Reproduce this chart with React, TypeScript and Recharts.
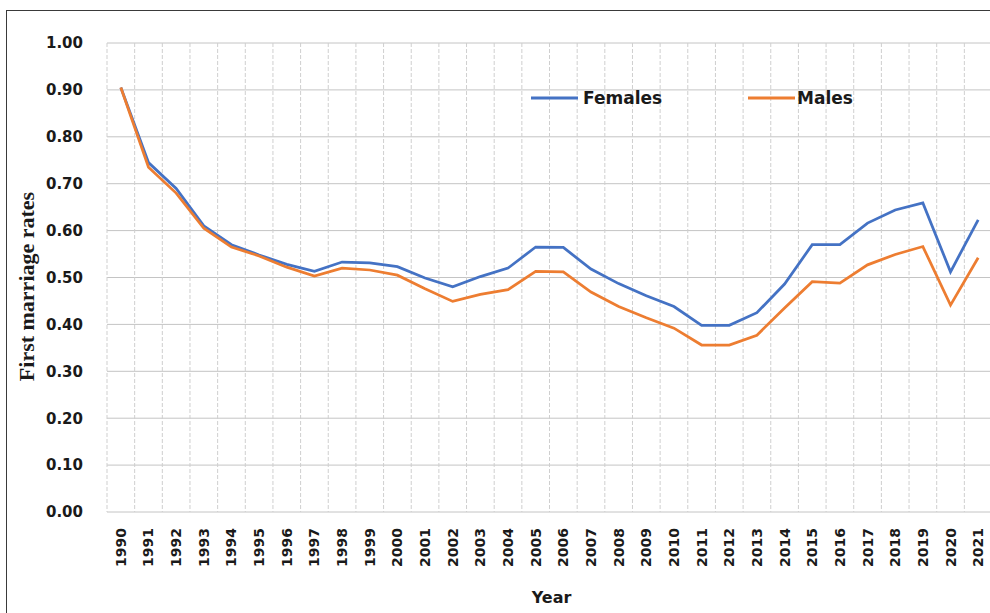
import React from 'react';
import { LineChart, Line, XAxis, YAxis, CartesianGrid, Legend, Label } from 'recharts';

const years = [
  '1990', '1991', '1992', '1993', '1994', '1995', '1996', '1997', '1998', '1999',
  '2000', '2001', '2002', '2003', '2004', '2005', '2006', '2007', '2008', '2009',
  '2010', '2011', '2012', '2013', '2014', '2015', '2016', '2017', '2018', '2019',
  '2020', '2021',
];

const females = [
  0.905, 0.745, 0.69, 0.61, 0.57, 0.548, 0.528, 0.513, 0.533, 0.531,
  0.523, 0.499, 0.48, 0.502, 0.52, 0.565, 0.564, 0.518, 0.487, 0.461,
  0.438, 0.398, 0.398, 0.425, 0.486, 0.57, 0.57, 0.616, 0.644, 0.659,
  0.512, 0.623,
];

const males = [
  0.905, 0.735, 0.68, 0.605, 0.565, 0.546, 0.522, 0.503, 0.52, 0.516,
  0.505, 0.476, 0.449, 0.464, 0.474, 0.513, 0.512, 0.469, 0.438, 0.414,
  0.392, 0.356, 0.356, 0.377, 0.435, 0.491, 0.488, 0.527, 0.549, 0.566,
  0.441, 0.542,
];

const yTicks = [0, 0.1, 0.2, 0.3, 0.4, 0.5, 0.6, 0.7, 0.8, 0.9, 1.0];

const data = years.map((year, i) => ({ year, Females: females[i], Males: males[i] }));

const FONT = '"DejaVu Sans", Arial, sans-serif';

const XTick = (props: any) => {
  const { x, y, payload } = props;
  return (
    <text
      x={x}
      y={y}
      transform={`rotate(-90 ${x} ${y})`}
      textAnchor="end"
      dominantBaseline="central"
      fontFamily={FONT}
      fontWeight="bold"
      fontSize={14}
      fill="#1a1a1a"
    >
      {payload.value}
    </text>
  );
};

const LegendContent = (props: any) => {
  const { payload } = props;
  return (
    <div style={{ display: 'flex', alignItems: 'center' }}>
      {(payload || []).map((p: any, i: number) => (
        <div key={p.value} style={{ display: 'flex', alignItems: 'center', width: i === 0 ? 217 : 'auto' }}>
          <svg width={47} height={6} style={{ display: 'block' }}>
            <line x1={0} y1={3} x2={47} y2={3} stroke={p.color} strokeWidth={3} />
          </svg>
          <span
            style={{
              marginLeft: i === 0 ? 5 : 2,
              fontFamily: FONT,
              fontWeight: 'bold',
              fontSize: 17,
              color: '#1a1a1a',
              lineHeight: '20px',
            }}
          >
            {p.value}
          </span>
        </div>
      ))}
    </div>
  );
};

export default function App() {
  return (
    <div style={{ position: 'absolute', left: 0, top: 0, width: 990, height: 613, overflow: 'hidden', background: '#fff' }}>
      <div
        style={{
          position: 'absolute',
          left: 6,
          top: 10,
          width: 1010,
          height: 620,
          border: '1.5px solid #3a3a3a',
          boxSizing: 'border-box',
        }}
      />
      <div style={{ position: 'absolute', left: 0, top: 0 }}>
        <LineChart
          width={1000}
          height={613}
          data={data}
          margin={{ top: 43, right: 8, bottom: 0, left: 0 }}
        >
          <CartesianGrid
            horizontal={true}
            vertical={false}
            stroke="#c4c4c4"
            strokeWidth={1}
          />
          <CartesianGrid
            horizontal={false}
            vertical={true}
            stroke="#cfcfcf"
            strokeDasharray="4 2"
            verticalCoordinatesGenerator={({ offset }: any) =>
              Array.from({ length: years.length + 1 }, (_, i) => offset.left + (i * offset.width) / years.length)
            }
          />
          <XAxis
            dataKey="year"
            scale="band"
            height={101}
            axisLine={false}
            tickLine={false}
            tickSize={0}
            tickMargin={16}
            interval={0}
            tick={<XTick />}
          >
            <Label
              content={({ viewBox }: any) => (
                <text
                  x={viewBox.x + viewBox.width / 2 + 2}
                  y={viewBox.y + 85}
                  textAnchor="middle"
                  dominantBaseline="central"
                  fontFamily={FONT}
                  fontWeight="bold"
                  fontSize={16}
                  fill="#1a1a1a"
                >
                  Year
                </text>
              )}
            />
          </XAxis>
          <YAxis
            width={107}
            domain={[0, 1]}
            ticks={yTicks}
            axisLine={false}
            tickLine={false}
            tickSize={0}
            tickMargin={24}
            tickFormatter={(v: number) => v.toFixed(2)}
            tick={{ fontFamily: FONT, fontWeight: 'bold', fontSize: 15, fill: '#1a1a1a' }}
          >
            <Label
              content={({ viewBox }: any) => {
                const cx = viewBox.x + 26;
                const cy = viewBox.y + viewBox.height / 2 + 9;
                return (
                  <text
                    x={cx}
                    y={cy}
                    transform={`rotate(-90 ${cx} ${cy})`}
                    textAnchor="middle"
                    dominantBaseline="central"
                    fontFamily='"Liberation Serif", "Times New Roman", serif'
                    fontWeight="bold"
                    fontSize={22}
                    fill="#1a1a1a"
                  >
                    First marriage rates
                  </text>
                );
              }}
            />
          </YAxis>
          <Legend
            layout="horizontal"
            verticalAlign="middle"
            align="center"
            wrapperStyle={{ top: 88, left: 531, width: 'auto' }}
            content={<LegendContent />}
          />
          <Line
            type="linear"
            dataKey="Females"
            stroke="#4472C4"
            strokeWidth={2.75}
            dot={false}
            activeDot={false}
            isAnimationActive={false}
          />
          <Line
            type="linear"
            dataKey="Males"
            stroke="#ED7D31"
            strokeWidth={2.75}
            dot={false}
            activeDot={false}
            isAnimationActive={false}
          />
        </LineChart>
      </div>
    </div>
  );
}
